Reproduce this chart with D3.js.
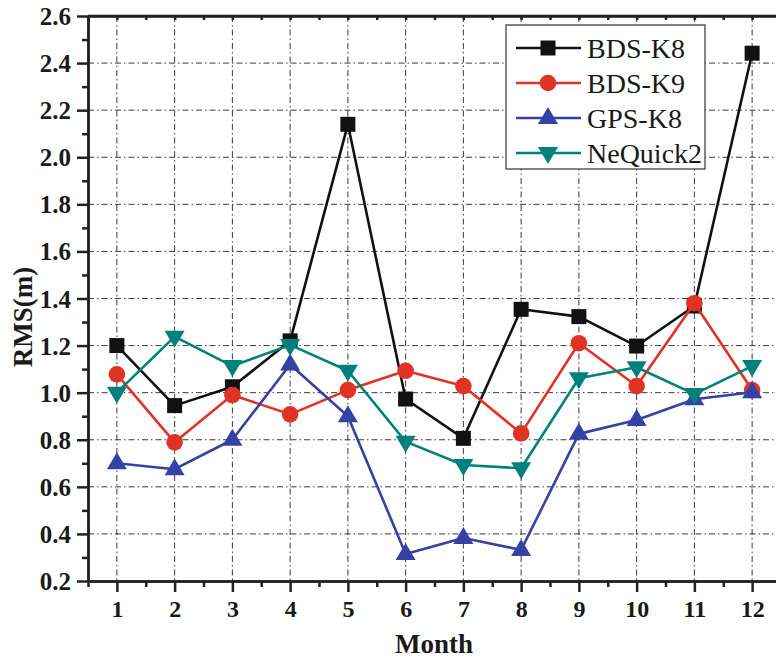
<!DOCTYPE html>
<html>
<head>
<meta charset="utf-8">
<script src="https://cdn.jsdelivr.net/npm/d3@7"></script>
<style>
  html, body { margin: 0; padding: 0; background: #fff; }
  svg { display: block; }
  svg text { font-family: "Times New Roman", Times, "Liberation Serif", serif; }
</style>
</head>
<body>
<svg id="chart" width="776" height="662"></svg>
<script>
// Monthly RMS error of ionospheric models
const months = [1, 2, 3, 4, 5, 6, 7, 8, 9, 10, 11, 12];
const bdsK8 = [1.20, 0.945, 1.025, 1.22, 2.14, 0.973, 0.806, 1.354, 1.323, 1.198, 1.368, 2.442];
const bdsK9 = [1.078, 0.789, 0.99, 0.908, 1.011, 1.093, 1.028, 0.827, 1.21, 1.028, 1.38, 1.011];
const gpsK8 = [0.70, 0.675, 0.80, 1.12, 0.90, 0.315, 0.383, 0.332, 0.825, 0.884, 0.972, 1.002];
const neQuick2 = [1.0, 1.238, 1.113, 1.203, 1.093, 0.792, 0.693, 0.679, 1.061, 1.108, 0.994, 1.113];
const seriesNames = ["BDS-K8", "BDS-K9", "GPS-K8", "NeQuick2"];
const yTicks = [0.2, 0.4, 0.6, 0.8, 1.0, 1.2, 1.4, 1.6, 1.8, 2.0, 2.2, 2.4, 2.6];

const series = [
  { name: seriesNames[0], values: bdsK8, color: "#111111", symbol: "square" },
  { name: seriesNames[1], values: bdsK9, color: "#e03326", symbol: "circle" },
  { name: seriesNames[2], values: gpsK8, color: "#3342a4", symbol: "up" },
  { name: seriesNames[3], values: neQuick2, color: "#00817b", symbol: "down" }
];

const svg = d3.select("#chart");
const plotLeft = 88, plotTop = 16, plotBottom = 581, plotRight = 781;

const x = d3.scaleLinear().domain([0.5, 12.5]).range([plotLeft, plotRight]);
const y = d3.scaleLinear().domain([0.2, 2.6]).range([plotBottom, plotTop]);

const gridColor = "#3a3a3a";

// Grid: dash-dot lines at every month and every 0.2
const grid = svg.append("g");
grid.selectAll(".vg").data(months).enter().append("line")
  .attr("x1", d => x(d)).attr("x2", d => x(d))
  .attr("y1", plotTop).attr("y2", plotBottom)
  .attr("stroke", gridColor).attr("stroke-width", 1)
  .attr("stroke-dasharray", "6,3,1.5,3");
grid.selectAll(".hg").data(yTicks.slice(1, -1)).enter().append("line")
  .attr("x1", plotLeft).attr("x2", plotRight)
  .attr("y1", d => y(d)).attr("y2", d => y(d))
  .attr("stroke", gridColor).attr("stroke-width", 1)
  .attr("stroke-dasharray", "6,3,1.5,3");

// Axes
const axisStroke = "#222";
function styleAxis(g) {
  g.select(".domain").attr("stroke", axisStroke).attr("stroke-width", 2.5);
  g.selectAll(".tick line").attr("stroke", axisStroke).attr("stroke-width", 2.5);
}

const halfTicks = d3.range(0.5, 12.6, 1);
const yMinor = d3.range(0.3, 2.6, 0.2);

// Bottom axis: labelled month ticks, shorter half-month ticks
const xAxis = svg.append("g").attr("transform", `translate(0,${plotBottom})`)
  .call(d3.axisBottom(x).tickValues(months).tickFormat(d3.format("d")).tickSize(11).tickSizeOuter(0).tickPadding(8));
styleAxis(xAxis);
xAxis.attr("font-family", null);
xAxis.selectAll("text").attr("font-weight", "bold")
  .style("font-size", "24px").attr("fill", "#1a1a1a");
svg.append("g").attr("transform", `translate(0,${plotBottom})`)
  .call(d3.axisBottom(x).tickValues(halfTicks).tickFormat("").tickSize(6).tickSizeOuter(0))
  .call(styleAxis);

// Top axis: short inward ticks
svg.append("g").attr("transform", `translate(0,${plotTop})`)
  .call(d3.axisBottom(x).tickValues(months.concat(halfTicks)).tickFormat("").tickSize(4).tickSizeOuter(0))
  .call(styleAxis);

// Left axis
const yAxis = svg.append("g").attr("transform", `translate(${plotLeft},0)`)
  .call(d3.axisLeft(y).tickValues(yTicks).tickFormat(d3.format(".1f")).tickSize(11).tickSizeOuter(0).tickPadding(6));
styleAxis(yAxis);
yAxis.attr("font-family", null);
yAxis.selectAll("text").attr("font-weight", "bold")
  .style("font-size", "25px").attr("fill", "#1a1a1a").attr("dy", "0.34em");
svg.append("g").attr("transform", `translate(${plotLeft},0)`)
  .call(d3.axisLeft(y).tickValues(yMinor).tickFormat("").tickSize(6).tickSizeOuter(0))
  .call(styleAxis);

// Axis titles
svg.append("text").attr("x", 434).attr("y", 653)
  .attr("text-anchor", "middle").attr("font-weight", "bold")
  .style("font-size", "27px").attr("fill", "#1a1a1a").text("Month");
svg.append("text").attr("transform", "translate(32,317) rotate(-90)")
  .attr("text-anchor", "middle").attr("font-weight", "bold")
  .style("font-size", "27px").attr("fill", "#1a1a1a").text("RMS(m)");

// Marker symbols
function drawMarker(g, kind, cx, cy, color) {
  if (kind === "square") {
    g.append("rect").attr("x", cx - 7.5).attr("y", cy - 7.5).attr("width", 15).attr("height", 15)
      .attr("fill", color);
  } else if (kind === "circle") {
    g.append("circle").attr("cx", cx).attr("cy", cy).attr("r", 8.3).attr("fill", color);
  } else if (kind === "up") {
    g.append("path").attr("d", `M${cx},${cy - 11} L${cx + 10},${cy + 6} L${cx - 10},${cy + 6} Z`)
      .attr("fill", color);
  } else {
    g.append("path").attr("d", `M${cx},${cy + 11} L${cx + 10},${cy - 6} L${cx - 10},${cy - 6} Z`)
      .attr("fill", color);
  }
}

const line = d3.line().x((d, i) => x(months[i])).y(d => y(d));
const plot = svg.append("g");
series.forEach(s => {
  const g = plot.append("g");
  g.append("path").datum(s.values).attr("d", line)
    .attr("fill", "none").attr("stroke", s.color).attr("stroke-width", 2.6)
    .attr("stroke-linejoin", "round");
  s.values.forEach((v, i) => drawMarker(g, s.symbol, x(months[i]), y(v), s.color));
});

// Legend
const legend = svg.append("g");
legend.append("rect").attr("x", 506).attr("y", 25).attr("width", 199).attr("height", 144)
  .attr("fill", "#fff").attr("stroke", "#333").attr("stroke-width", 1.2);
series.forEach((s, i) => {
  const cy = 48 + i * 35;
  legend.append("line").attr("x1", 516).attr("x2", 581).attr("y1", cy).attr("y2", cy)
    .attr("stroke", s.color).attr("stroke-width", 2.6);
  drawMarker(legend, s.symbol, 548, cy, s.color);
  legend.append("text").attr("x", 587).attr("y", cy).attr("dy", "0.35em")
    .style("font-size", "28px").attr("fill", "#1a1a1a").text(s.name);
});

// Top border redrawn over the grid
svg.append("line").attr("x1", plotLeft).attr("x2", plotRight).attr("y1", plotTop).attr("y2", plotTop)
  .attr("stroke", axisStroke).attr("stroke-width", 2.5);
</script>
</body>
</html>
